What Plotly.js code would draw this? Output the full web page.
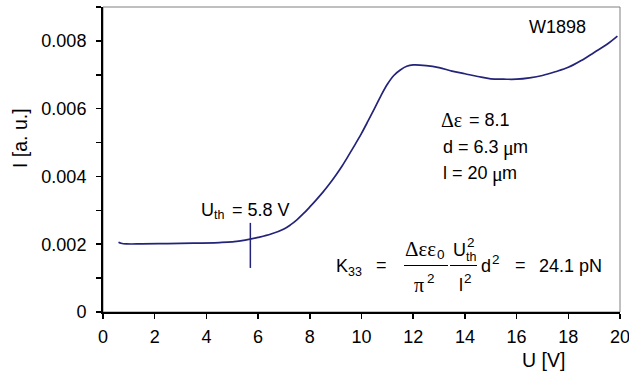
<!DOCTYPE html>
<html>
<head>
<meta charset="utf-8">
<script src="https://cdn.plot.ly/plotly-3.0.1.min.js"></script>
<style>html,body{margin:0;padding:0;background:#fff;}#chart{width:629px;height:371px;}</style>
</head>
<body>
<div id="chart"></div>
<script>
// ---- data ----
var voltageU = [0.6, 0.7, 0.9, 1.5, 2.5, 3.5, 4.5, 5.0, 5.5, 6.0, 6.5, 7.0, 7.25, 7.5, 7.75, 8.0, 8.25, 8.5, 8.75, 9.0, 9.25, 9.5, 9.75, 10.0, 10.25, 10.5, 10.75, 11.0, 11.25, 11.5, 11.75, 12.0, 12.5, 13.0, 13.5, 14.0, 14.5, 15.0, 15.5, 16.0, 16.5, 17.0, 17.5, 18.0, 18.5, 19.0, 19.5, 19.9];
var intensityI = [0.00206, 0.00203, 0.00201, 0.00201, 0.00202, 0.00203, 0.00205, 0.00207, 0.00212, 0.00220, 0.00230, 0.00245, 0.00257, 0.00272, 0.00290, 0.00310, 0.00331, 0.00353, 0.00377, 0.00403, 0.00431, 0.00462, 0.00494, 0.00527, 0.00563, 0.00600, 0.00638, 0.00672, 0.00698, 0.00714, 0.00725, 0.00729, 0.00727, 0.00721, 0.00711, 0.00703, 0.00695, 0.00688, 0.00687, 0.00687, 0.00691, 0.00698, 0.00709, 0.00722, 0.00742, 0.00766, 0.00790, 0.00814];
var thresholdU = [5.7, 5.7];
var thresholdMark = [0.0013, 0.00263];
var xTicks = [0, 2, 4, 6, 8, 10, 12, 14, 16, 18, 20];
var yTicks = [0, 0.002, 0.004, 0.006, 0.008];
var yTickText = ['0', '0.002', '0.004', '0.006', '0.008'];

var LINE = '#23237a';
var FONT = 'Liberation Sans, Arial, sans-serif';
var SERIF = 'Liberation Serif, Times New Roman, serif';
var FS = 18;    // main text size
var SS = 12.5;  // small (sub/sup) size

// plot area in pixels
var L = 103, R = 620, T = 7, B = 312;
function px(x) { return (x - L) / (R - L); }
function py(y) { return (B - y) / (B - T); }

function ann(text, x, y, xa, size, fam, extra) {
  var a = {text: text, xref: 'paper', yref: 'paper', x: px(x), y: py(y), xanchor: xa || 'left', yanchor: 'middle',
    showarrow: false, font: {family: fam || FONT, size: size || FS, color: '#000'}};
  if (extra) for (var k in extra) a[k] = extra[k];
  return a;
}

var traces = [
  {x: voltageU, y: intensityI, mode: 'lines', line: {color: LINE, width: 1.7, shape: 'spline', smoothing: 1}, hoverinfo: 'skip'},
  {x: thresholdU, y: thresholdMark, mode: 'lines', line: {color: LINE, width: 1.5}, hoverinfo: 'skip'}
];

var annotations = [
  // threshold label
  ann('U', 199, 210),
  ann('th', 212, 215, 'left', SS),
  ann('= 5.8 V', 230, 210),
  // sample
  ann('W1898', 527, 27),
  ann('\u0394\u03b5', 439, 120, 'left', 20, SERIF),
  ann('= 8.1', 467, 120),
  ann('d = 6.3', 441, 147),
  ann('\u03bc', 501, 148.5, 'left', 20, SERIF),
  ann('m', 511, 147),
  ann('l = 20', 441, 173),
  ann('\u03bc', 490, 174.5, 'left', 20, SERIF),
  ann('m', 500, 173),
  // formula
  ann('K', 334, 266),
  ann('33', 345.5, 272, 'left', SS),
  ann('=', 381, 265, 'center'),
  ann('\u0394\u03b5\u03b5', 403, 249, 'left', 21, SERIF),
  ann('0', 434.5, 254, 'left', SS + 1),
  ann('\u03c0', 412, 285, 'left', 20, SERIF),
  ann('2', 424.5, 278, 'left', SS + 1),
  ann('U', 451, 250),
  ann('2', 465, 242, 'left', SS + 1),
  ann('th', 463.5, 257, 'left', SS),
  ann('l', 457, 285),
  ann('2', 462, 278, 'left', SS + 1),
  ann('d', 479, 266),
  ann('2', 489.5, 259, 'left', SS + 1),
  ann('=', 520, 265, 'center'),
  ann('24.1 pN', 537, 266),
  // axis titles
  ann('U [V]', 543, 360, 'center', 19.5),
  ann('I [a. u.]', 20, 138, 'center', 19.5, FONT, {textangle: -90})
];

var shapes = [
  {type: 'rect', xref: 'paper', yref: 'paper', x0: 0, x1: 1, y0: 0, y1: 1, line: {color: '#808080', width: 1}, layer: 'below'},
  {type: 'line', xref: 'paper', yref: 'paper', x0: px(404), x1: px(448), y0: py(265.5), y1: py(265.5), line: {color: '#000', width: 1}},
  {type: 'line', xref: 'paper', yref: 'paper', x0: px(450), x1: px(477), y0: py(265.5), y1: py(265.5), line: {color: '#000', width: 1}}
];

var layout = {
  width: 629, height: 371,
  margin: {l: L, r: 629 - R, t: T, b: 371 - B, pad: 0},
  paper_bgcolor: '#fff', plot_bgcolor: '#fff',
  showlegend: false,
  font: {family: FONT, size: FS, color: '#000'},
  xaxis: {range: [0, 20], tickvals: xTicks, ticks: 'outside', ticklen: 5, tickwidth: 1.5, tickcolor: '#000',
    showline: true, linecolor: '#000', linewidth: 2, showgrid: false, zeroline: false,
    ticklabeloverflow: 'allow', ticklabelstandoff: 2,
    tickfont: {family: FONT, size: FS, color: '#000'}},
  yaxis: {range: [0, 0.009], tickvals: yTicks, ticktext: yTickText, ticks: 'outside', ticklen: 5, tickwidth: 1.5, tickcolor: '#000',
    showline: true, linecolor: '#000', linewidth: 2, showgrid: false, zeroline: false,
    ticklabeloverflow: 'allow', ticklabelstandoff: 6,
    minor: {dtick: 0.001, ticks: 'outside', ticklen: 5, tickwidth: 1.5, tickcolor: '#000', showgrid: false},
    tickfont: {family: FONT, size: FS, color: '#000'}},
  annotations: annotations,
  shapes: shapes
};

Plotly.newPlot('chart', traces, layout, {staticPlot: true, displayModeBar: false});
</script>
</body>
</html>
